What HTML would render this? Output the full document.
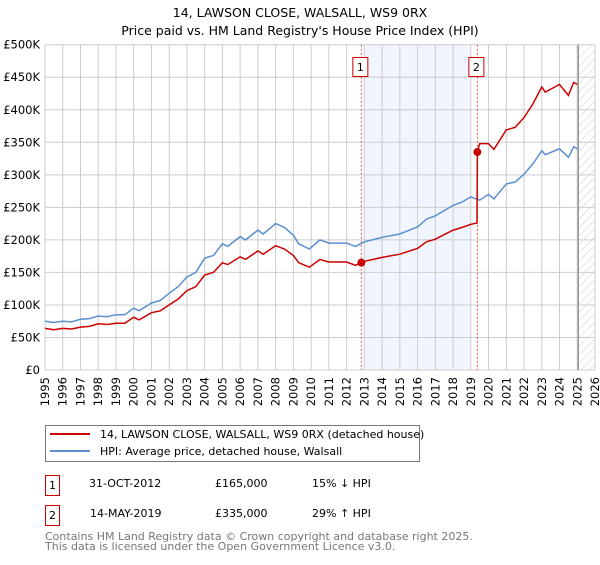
<!DOCTYPE html>
<html><head><meta charset="utf-8"><style>
body{margin:0;background:#fff;font-family:"Liberation Sans","DejaVu Sans",sans-serif;}
svg text{font-family:"DejaVu Sans","Liberation Sans",sans-serif;}
</style></head><body>
<svg id="c" width="600" height="560" xmlns="http://www.w3.org/2000/svg">
<defs><pattern id="hatch" width="6" height="6" patternUnits="userSpaceOnUse" patternTransform="rotate(45)"><line x1="0" y1="0" x2="0" y2="6" stroke="#ccc" stroke-width="1"/></pattern></defs>
<text x="300" y="17" text-anchor="middle" font-size="12.5">14, LAWSON CLOSE, WALSALL, WS9 0RX</text>
<text x="300" y="35" text-anchor="middle" font-size="12.5">Price paid vs. HM Land Registry's House Price Index (HPI)</text>
<g id="plot"></g>
<g>
<rect x="45.5" y="425.5" width="374" height="36" fill="#fff" stroke="#777"/>
<line x1="50" y1="434" x2="90" y2="434" stroke="#cc0000" stroke-width="2"/>
<text x="100" y="438" font-size="11">14, LAWSON CLOSE, WALSALL, WS9 0RX (detached house)</text>
<line x1="50" y1="451" x2="90" y2="451" stroke="#5b8fd0" stroke-width="2"/>
<text x="100" y="455" font-size="11">HPI: Average price, detached house, Walsall</text>
</g>
<g font-size="11">
<rect x="45.5" y="475.5" width="14" height="20" fill="#fff" stroke="#cc0000"/><text x="52.5" y="489" text-anchor="middle">1</text>
<text x="89" y="487">31-OCT-2012</text><text x="215" y="487">£165,000</text><text x="312" y="487">15% ↓ HPI</text>
<rect x="45.5" y="505.5" width="14" height="20" fill="#fff" stroke="#cc0000"/><text x="52.5" y="519" text-anchor="middle">2</text>
<text x="90" y="517">14-MAY-2019</text><text x="215" y="517">£335,000</text><text x="312" y="517">29% ↑ HPI</text>
</g>
<text x="45" y="540" font-size="11" fill="#777">Contains HM Land Registry data © Crown copyright and database right 2025.</text>
<text x="45" y="550" font-size="11" fill="#777">This data is licensed under the Open Government Licence v3.0.</text>
</svg>
<script>
const hpiYears=[1995,1995.5,1996,1996.5,1997,1997.5,1998,1998.5,1999,1999.5,2000,2000.3,2001,2001.5,2002,2002.5,2003,2003.5,2004,2004.5,2005,2005.3,2006,2006.3,2007,2007.3,2008,2008.5,2009,2009.3,2009.9,2010.5,2011,2012,2012.5,2013,2014,2015,2016,2016.5,2017,2018,2018.5,2019,2019.5,2020,2020.3,2021,2021.5,2022,2022.5,2023,2023.2,2024,2024.5,2024.8,2025];
const hpiValues=[75,73,75,74,78,79,83,82,85,85,95,91,103,107,118,128,143,150,172,176,194,190,205,200,215,209,225,219,207,194,186,200,195,195,190,197,204,209,220,232,237,253,258,266,261,270,263,286,289,301,317,337,331,340,327,343,340];
const priceYears=[1995,1995.5,1996,1996.5,1997,1997.5,1998,1998.5,1999,1999.5,2000,2000.3,2001,2001.5,2002,2002.5,2003,2003.5,2004,2004.5,2005,2005.3,2006,2006.3,2007,2007.3,2008,2008.5,2009,2009.3,2009.9,2010.5,2011,2012,2012.5,2012.83,2013,2014,2015,2016,2016.5,2017,2018,2018.5,2019,2019.35,2019.37,2019.5,2020,2020.3,2021,2021.5,2022,2022.5,2023,2023.2,2024,2024.5,2024.8,2025];
const priceValues=[64,62,64,63,66,67,71,70,72,72,81,77,88,91,100,109,122,128,146,150,165,162,174,170,183,178,191,186,176,165,158,170,166,166,161,165,167,173,178,187,197,201,215,219,224,226,335,348,348,339,369,373,388,409,435,427,439,422,442,439];
const saleYears=[2012.83,2019.37];
const saleValues=[165,335];
const yTicks=[0,50,100,150,200,250,300,350,400,450,500];
const yTickLabels=["£0","£50K","£100K","£150K","£200K","£250K","£300K","£350K","£400K","£450K","£500K"];
const xTicks=[1995,1996,1997,1998,1999,2000,2001,2002,2003,2004,2005,2006,2007,2008,2009,2010,2011,2012,2013,2014,2015,2016,2017,2018,2019,2020,2021,2022,2023,2024,2025,2026];

const X0=45,X1=595,Y0=370,Y1=44.7;
const xs=v=>X0+(v-1995)/(2026-1995)*(X1-X0);
const ys=v=>Y0-v/500*(Y0-Y1);
const NS="http://www.w3.org/2000/svg";
const g=document.getElementById('plot');
function mk(tag,attrs){const e=document.createElementNS(NS,tag);for(const k in attrs)e.setAttribute(k,attrs[k]);g.appendChild(e);return e;}

let e=mk('rect',{x:xs(2013),y:Y1,width:xs(2019)-xs(2013),height:Y0-Y1,fill:'#eef3fc',opacity:0.8});


e=mk('rect',{x:xs(2025),y:Y1,width:X1-xs(2025),height:Y0-Y1,fill:'url(#hatch)'});



xTicks.forEach(t=>{
  let l=mk('line',{x1:xs(t),x2:xs(t),y1:Y1,y2:Y0,stroke:'#ccc','stroke-width':1});
  
  
  let tx=mk('text',{x:0,y:0,'font-size':11.5,'text-anchor':'end',transform:`translate(${xs(t)+4},${Y0+7}) rotate(-90)`});
  tx.textContent=t;
  
  
});
yTicks.forEach((t,i)=>{
  let l=mk('line',{x1:X0,x2:X1,y1:ys(t),y2:ys(t),stroke:'#ccc','stroke-width':1});
  
  
  let tx=mk('text',{x:40,y:ys(t)+4,'font-size':11.5,'text-anchor':'end'});
  tx.textContent=yTickLabels[i];
  
  
});
e=mk('line',{x1:xs(2025)+1,x2:xs(2025)+1,y1:Y1,y2:Y0,stroke:'#999','stroke-width':1.5});



saleYears.forEach((s,i)=>{
  let l=mk('line',{x1:xs(s),x2:xs(s),y1:Y1,y2:Y0,stroke:'#e05050','stroke-width':1,'stroke-dasharray':'2,2'});
  
  
  let r=mk('rect',{x:xs(s)-8.5,y:57.5,width:15,height:19,fill:'#fff',stroke:'#cc0000'});
  
  
  let t=mk('text',{x:xs(s)-1,y:71,'font-size':11,'text-anchor':'middle'});
  t.textContent=String(i+1);
  
  
});

function pts(xa,va){return xa.map((x,i)=>xs(x).toFixed(1)+','+ys(va[i]).toFixed(1)).join(' ');}
e=mk('polyline',{points:pts(hpiYears,hpiValues),fill:'none',stroke:'#5b8fd0','stroke-width':1.5});


e=mk('polyline',{points:pts(priceYears,priceValues),fill:'none',stroke:'#cc0000','stroke-width':1.5});


saleYears.forEach((s,i)=>{
  let c=mk('circle',{cx:xs(s),cy:ys(saleValues[i]),r:4,fill:'#cc0000'});
  
  
});
</script>
</body></html>
